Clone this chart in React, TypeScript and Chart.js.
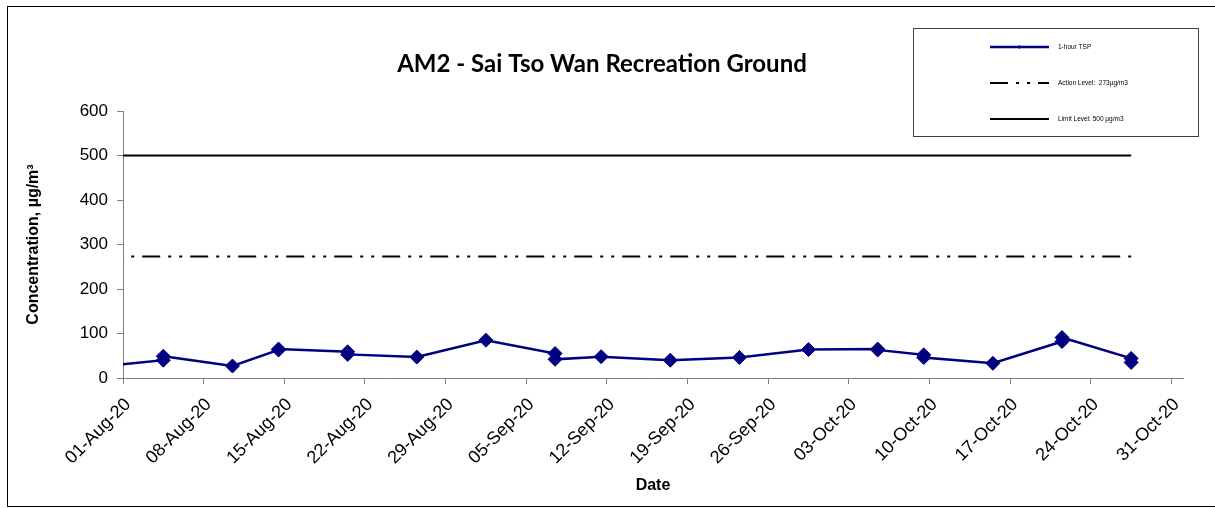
import React, { useEffect, useRef } from 'react';
import { Chart, registerables } from 'chart.js';

Chart.register(...registerables);

const chartTitle = 'AM2 - Sai Tso Wan Recreation Ground';
const yAxisTitle = 'Concentration, µg/m³';
const xAxisTitle = 'Date';
const startDate = '2020-08-01T00:00';

const tspDates = [
  '2020-07-29T12:00',
  '2020-08-04T12:00', '2020-08-04T12:00',
  '2020-08-10T12:00',
  '2020-08-14T12:00', '2020-08-14T12:00',
  '2020-08-20T12:00', '2020-08-20T12:00',
  '2020-08-26T12:00',
  '2020-09-01T12:00',
  '2020-09-07T12:00', '2020-09-07T12:00',
  '2020-09-11T12:00',
  '2020-09-17T12:00',
  '2020-09-23T12:00',
  '2020-09-29T12:00',
  '2020-10-05T12:00', '2020-10-05T12:00',
  '2020-10-09T12:00', '2020-10-09T12:00',
  '2020-10-15T12:00',
  '2020-10-21T12:00', '2020-10-21T12:00',
  '2020-10-27T12:00', '2020-10-27T12:00',
];
const tspValues = [
  24,
  40, 49,
  27,
  63, 65,
  59, 53,
  47,
  85,
  55, 42,
  48,
  40,
  46,
  64,
  65, 63,
  52, 46,
  33,
  82, 91,
  44, 35,
];
const actionLevel = 273;
const limitLevel = 500;
const seriesLabels = ['1-hour TSP', 'Action Level:  273µg/m3', 'Limit Level: 500 µg/m3'];
const xTickLabels = [
  '01-Aug-20', '08-Aug-20', '15-Aug-20', '22-Aug-20', '29-Aug-20', '05-Sep-20', '12-Sep-20',
  '19-Sep-20', '26-Sep-20', '03-Oct-20', '10-Oct-20', '17-Oct-20', '24-Oct-20', '31-Oct-20',
];
const xMaxDate = '2020-11-01T00:00';
const yTicks = [0, 100, 200, 300, 400, 500, 600];

const dayOf = (s: string) => (Date.parse(s) - Date.parse(startDate)) / 86400000;

const NAVY = '#000080';
const AXIS = '#808080';
const ACTION_DASH = [18, 8, 3, 8, 3, 8];

const decorPlugin = {
  id: 'decor',
  beforeDraw(chart: any) {
    const ctx = chart.ctx;
    ctx.save();
    ctx.fillStyle = '#ffffff';
    ctx.fillRect(0, 0, chart.width, chart.height);
    ctx.strokeStyle = '#000000';
    ctx.lineWidth = 1;
    ctx.strokeRect(7.5, 6.5, chart.width + 10, 500);
    ctx.restore();
  },
  afterDraw(chart: any) {
    const ctx = chart.ctx;
    ctx.save();
    const bx = 913.5, by = 28.5, bw = 285, bh = 108;
    ctx.fillStyle = '#ffffff';
    ctx.fillRect(bx, by, bw, bh);
    ctx.strokeStyle = '#404040';
    ctx.lineWidth = 1;
    ctx.strokeRect(bx, by, bw, bh);
    const ys = [47, 83, 119];
    const x0 = 990, x1 = 1049;
    chart.data.datasets.forEach((ds: any, i: number) => {
      const y = ys[i];
      ctx.beginPath();
      ctx.strokeStyle = ds.borderColor;
      ctx.lineWidth = ds.borderWidth;
      ctx.setLineDash(ds.borderDash || []);
      ctx.moveTo(x0, y);
      ctx.lineTo(x1, y);
      ctx.stroke();
      ctx.setLineDash([]);
      if (i === 0) {
        ctx.beginPath();
        ctx.fillStyle = ds.borderColor;
        const cx = (x0 + x1) / 2;
        ctx.moveTo(cx, y - 2);
        ctx.lineTo(cx + 2, y);
        ctx.lineTo(cx, y + 2);
        ctx.lineTo(cx - 2, y);
        ctx.closePath();
        ctx.fill();
      }
      ctx.fillStyle = '#000000';
      ctx.font = '6.5px "Liberation Sans", Arial, sans-serif';
      ctx.textBaseline = 'middle';
      ctx.textAlign = 'left';
      ctx.fillText(ds.label, 1058, y);
    });
    ctx.restore();
  },
};

export default function App() {
  const canvasRef = useRef<HTMLCanvasElement | null>(null);

  useEffect(() => {
    if (!canvasRef.current) return;
    const tspData = tspDates.map((d, i) => ({ x: dayOf(d), y: tspValues[i] }));
    const levelX = [dayOf(tspDates[0]), dayOf(tspDates[tspDates.length - 1])];
    const chart = new Chart(canvasRef.current, {
      type: 'line',
      data: {
        datasets: [
          {
            label: seriesLabels[0],
            data: tspData,
            borderColor: NAVY,
            backgroundColor: NAVY,
            borderWidth: 2.5,
            pointStyle: 'rectRot',
            pointRadius: 7,
            pointBackgroundColor: NAVY,
            pointBorderColor: NAVY,
            pointBorderWidth: 1,
            tension: 0,
          },
          {
            label: seriesLabels[1],
            data: levelX.map((x) => ({ x, y: actionLevel })),
            borderColor: '#000000',
            backgroundColor: '#000000',
            borderWidth: 2,
            borderDash: ACTION_DASH,
            pointRadius: 0,
          },
          {
            label: seriesLabels[2],
            data: levelX.map((x) => ({ x, y: limitLevel })),
            borderColor: '#000000',
            backgroundColor: '#000000',
            borderWidth: 2,
            pointRadius: 0,
          },
        ] as any,
      },
      options: {
        animation: false,
        responsive: false,
        maintainAspectRatio: false,
        layout: { padding: { left: 21, right: 32, top: 0, bottom: 0 } },
        plugins: {
          legend: { display: false },
          tooltip: { enabled: false },
          title: {
            display: true,
            text: chartTitle,
            color: '#000000',
            font: { family: 'Lato, "Open Sans", sans-serif', size: 24, weight: 'bold', lineHeight: 1.2 },
            padding: { top: 49.6, bottom: 32.6 },
          },
        },
        scales: {
          x: {
            type: 'linear',
            min: 0,
            max: dayOf(xMaxDate),
            afterBuildTicks: (scale: any) => {
              scale.ticks = xTickLabels.map((_, i) => ({ value: i * 7 }));
            },
            afterFit: (scale: any) => {
              scale.height = 130;
            },
            grid: { drawOnChartArea: false, drawTicks: true, tickLength: 6, color: AXIS },
            border: { color: AXIS, width: 1 },
            ticks: {
              autoSkip: false,
              maxRotation: 45,
              minRotation: 45,
              padding: 10,
              labelOffset: 5,
              color: '#000000',
              font: { family: '"Liberation Sans", Arial, sans-serif', size: 18 },
              callback: (v: any) => xTickLabels[Math.round(Number(v) / 7)],
            },
            title: {
              display: true,
              text: xAxisTitle,
              color: '#000000',
              font: { family: '"Liberation Sans", Arial, sans-serif', size: 16, weight: 'bold', lineHeight: 1.2 },
              padding: { top: 0, bottom: 13 },
            },
          },
          y: {
            type: 'linear',
            min: 0,
            max: 600,
            afterBuildTicks: (scale: any) => {
              scale.ticks = yTicks.map((v) => ({ value: v }));
            },
            afterFit: (scale: any) => {
              scale.width = 102;
            },
            grid: { drawOnChartArea: false, drawTicks: true, tickLength: 6, color: AXIS },
            border: { color: AXIS, width: 1 },
            ticks: {
              padding: 9,
              color: '#000000',
              font: { family: '"Liberation Sans", Arial, sans-serif', size: 17 },
            },
            title: {
              display: true,
              text: yAxisTitle,
              color: '#000000',
              font: { family: '"Liberation Sans", Arial, sans-serif', size: 16, weight: 'bold', lineHeight: 1.2 },
              padding: { top: 3, bottom: 0 },
            },
          },
        },
      } as any,
      plugins: [decorPlugin],
    });
    return () => chart.destroy();
  }, []);

  return (
    <div style={{ position: 'absolute', left: 0, top: 0, width: 1215, height: 508, overflow: 'hidden' }}>
      <canvas ref={canvasRef} width={1215} height={508} style={{ display: 'block', width: 1215, height: 508 }} />
    </div>
  );
}
